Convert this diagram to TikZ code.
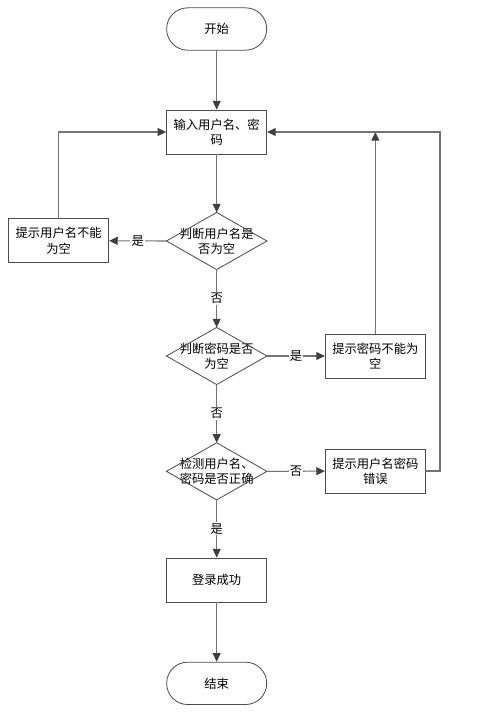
\documentclass[tikz,border=0pt]{standalone}
\usepackage{fontspec}
\newfontfamily\cjk{Noto Sans CJK SC}
\usepackage{tikz}
\usetikzlibrary{arrows.meta}
\usepackage{xcolor}

\begin{document}
\begin{tikzpicture}[>={Triangle[length=2.6mm,width=2.4mm]},font=\cjk\fontsize{10.5}{13}\selectfont,line cap=round,
  flow/.style={black!55,line width=0.9pt,-{Triangle[length=2.6mm,width=2.4mm,color=black!75]}},
  term/.style={draw=black!70,line width=0.7pt,rounded corners=0.63cm,minimum width=3cm,minimum height=1.27cm},
  proc/.style={draw=black!70,line width=0.7pt,minimum width=3cm,minimum height=1.32cm,align=center,inner sep=1pt},
  decide/.style={minimum width=3cm,minimum height=1.7cm,align=center,inner sep=0pt},
  lbl/.style={fill=white,text=black,inner sep=1pt}]
\useasboundingbox (0,0) rectangle (14.49,-21.42);
\node[term] (start) at (6.5,-0.87) {开始};
\node[proc] (in) at (6.5,-3.96) {输入用户名、密\\码};
\node[decide] (d1) at (6.5,-7.23) {判断用户名是\\否为空};
\node[proc] (e1) at (1.76,-7.22) {提示用户名不能\\为空};
\node[decide] (d2) at (6.5,-10.68) {判断密码是否\\为空};
\node[proc] (e2) at (11.26,-10.68) {提示密码不能为\\空};
\node[decide] (d3) at (6.5,-14.14) {检测用户名、\\密码是否正确};
\node[proc] (e3) at (11.26,-14.13) {提示用户名密码\\错误};
\node[proc] (ok) at (6.5,-17.4) {登录成功};
\node[term] (end) at (6.5,-20.5) {结束};
\coordinate (back) at (13.2,-3.96);
\foreach \d in {d1,d2,d3}
  \draw[black!70,line width=0.7pt] (\d.north) -- (\d.east) -- (\d.south) -- (\d.west) -- cycle;
\draw[flow] (start) -- (in);
\draw[flow] (in) -- (d1.north);
\draw[flow] (d1.west) -- node[lbl]{是} (e1);
\draw[flow] (e1.north) |- (in.west);
\draw[flow] (d1.south) -- node[lbl]{否} (d2.north);
\draw[flow] (d2.east) -- node[lbl]{是} (e2);
\draw[flow] (e2.north) -- (e2.north |- in.east);
\draw[flow] (d2.south) -- node[lbl]{否} (d3.north);
\draw[flow] (d3.east) -- node[lbl]{否} (e3);
\draw[flow] (e3.east) -| (back) -- (in.east);
\draw[flow] (d3.south) -- node[lbl]{是} (ok);
\draw[flow] (ok) -- (end);
\end{tikzpicture}
\end{document}
